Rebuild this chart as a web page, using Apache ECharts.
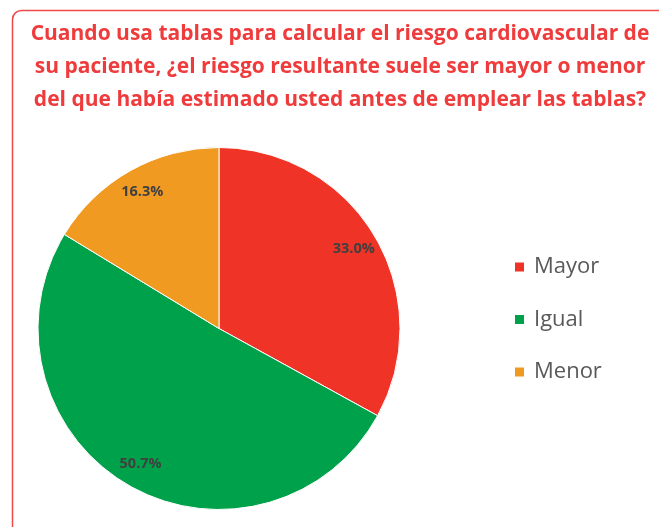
<!DOCTYPE html>
<html>
<head>
<meta charset="utf-8">
<script src="https://cdn.jsdelivr.net/npm/echarts@6/dist/echarts.min.js"></script>
<style>
  html, body { margin: 0; padding: 0; background: #fff; }
  #main { width: 659px; height: 527px; }
</style>
</head>
<body>
<div id="main"></div>
<script>
// datos de la encuesta
var categorias = ['Mayor', 'Igual', 'Menor'];
var porcentajes = [33.0, 50.7, 16.3];
var colores = ['#EF3326', '#00A14B', '#F19A22'];
var titulo = 'Cuando usa tablas para calcular el riesgo cardiovascular de\n' +
             'su paciente, ¿el riesgo resultante suele ser mayor o menor\n' +
             'del que había estimado usted antes de emplear las tablas?';

var datos = categorias.map(function (c, i) {
    return { name: c, value: porcentajes[i], itemStyle: { color: colores[i] } };
});

var myChart = echarts.init(document.getElementById('main'));
var option = {
    animation: false,
    title: {
        text: titulo,
        left: 335,
        top: 13,
        textAlign: 'center',
        textStyle: {
            fontFamily: 'Open Sans',
            fontWeight: 'bold',
            fontSize: 21,
            lineHeight: 33,
            color: '#EF3B3B'
        }
    },
    graphic: [{
        type: 'rect',
        shape: { x: 12.5, y: 10.5, width: 700, height: 600, r: 9 },
        style: { fill: 'none', stroke: '#F04848', lineWidth: 1.5 },
        silent: true
    }],
    legend: {
        orient: 'vertical',
        left: 508,
        top: 251,
        itemWidth: 11,
        itemHeight: 11,
        itemGap: 30.5,
        icon: 'rect',
        data: categorias,
        textStyle: {
            fontFamily: 'Open Sans',
            fontSize: 22,
            lineHeight: 22,
            color: '#595959',
            padding: [0, 0, 0, 4]
        }
    },
    series: [{
        type: 'pie',
        center: [219, 328.5],
        radius: [0, 181],
        startAngle: 90,
        data: datos,
        itemStyle: { borderColor: '#fff', borderWidth: 1 },
        label: { show: false },
        labelLine: { show: false },
        emphasis: { disabled: true },
        silent: true
    }, {
        // capa transparente solo para colocar las etiquetas más cerca del borde
        type: 'pie',
        center: [219, 328.5],
        radius: [126, 181],
        startAngle: 90,
        data: categorias.map(function (c, i) {
            return { name: c, value: porcentajes[i], itemStyle: { color: 'rgba(0,0,0,0)' } };
        }),
        label: {
            show: true,
            position: 'inside',
            formatter: function (p) { return p.value.toFixed(1) + '%'; },
            fontFamily: 'Open Sans',
            fontWeight: 'bold',
            fontSize: 14.5,
            color: '#404040'
        },
        labelLine: { show: false },
        emphasis: { disabled: true },
        silent: true
    }]
};

myChart.setOption(option);
</script>
</body>
</html>
